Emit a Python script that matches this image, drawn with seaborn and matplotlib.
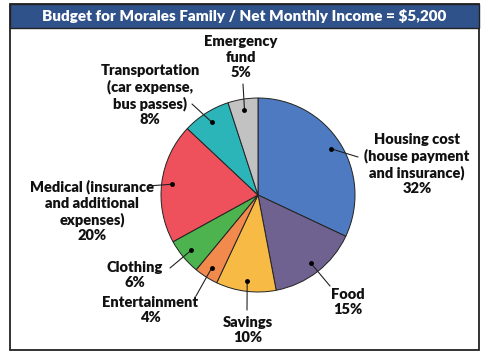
import numpy as np
import matplotlib.pyplot as plt
import seaborn as sns
from matplotlib.patches import Rectangle

sns.set_theme(style="white")
plt.rcParams['font.family'] = ['Lato', 'DejaVu Sans']

# data (clockwise from 12 o'clock)
categories = ['Housing cost', 'Food', 'Savings', 'Entertainment', 'Clothing',
              'Medical', 'Transportation', 'Emergency fund']
shares = [32, 15, 10, 4, 6, 20, 8, 5]
labels = ['Housing cost\n(house payment\nand insurance)\n32%',
          'Food\n15%',
          'Savings\n10%',
          'Entertainment\n4%',
          'Clothing\n6%',
          'Medical (insurance\nand additional\nexpenses)\n20%',
          'Transportation\n(car expense,\nbus passes)\n8%',
          'Emergency\nfund\n5%']
colors = ['#4d7ac0', '#6f6290', '#f7bb45', '#f28a4e', '#4db34f',
          '#ef515c', '#2bb5b8', '#c2c2c2']

# label text centres and leader line end (pixel coords, y from top)
text_pos = [(417, 164), (348, 302), (248, 330), (150, 310), (135, 275),
            (92, 211), (150, 95), (241, 57)]
line_end = [(358, 157), (330, 286), (247, 310), (196, 296), (170, 268),
            (148, 186), (192, 104), (243, 84)]

W, H = 489, 355
fig = plt.figure(figsize=(W / 100, H / 100), dpi=100)
ax = fig.add_axes([0, 0, 1, 1])

cx, cy, R = 258, H - 195, 97
wedges, _ = ax.pie(shares, colors=colors, startangle=90, counterclock=False,
                   center=(cx, cy), radius=R, frame=True,
                   wedgeprops=dict(edgecolor='#222222', linewidth=0.7))
ax.set_xlim(0, W)
ax.set_ylim(0, H)
ax.set_aspect('equal')
ax.axis('off')

for w, lab, tp, le in zip(wedges, labels, text_pos, line_end):
    ang = np.deg2rad((w.theta1 + w.theta2) / 2)
    dx, dy = cx + 0.89 * R * np.cos(ang), cy + 0.89 * R * np.sin(ang)
    ax.plot([dx, le[0]], [dy, H - le[1]], color='#222222', lw=0.8)
    ax.plot(dx, dy, 'o', color='black', ms=2.5)
    ax.text(tp[0], H - tp[1], lab, ha='center', va='center', fontsize=10.5,
            fontweight='heavy', color='#111111', linespacing=1.22)

# frame and title bar
ax.add_patch(Rectangle((10, H - 350), 469, 346, fill=False, edgecolor='#222222', lw=1.3))
ax.add_patch(Rectangle((10, H - 28), 469, 24, facecolor='#30528a', edgecolor='#222222', lw=1.0))
ax.text(244, H - 16, 'Budget for Morales Family / Net Monthly Income = $5,200',
        ha='center', va='center', color='white', fontsize=11, fontweight='heavy')

fig.savefig('out.png', dpi=100)
